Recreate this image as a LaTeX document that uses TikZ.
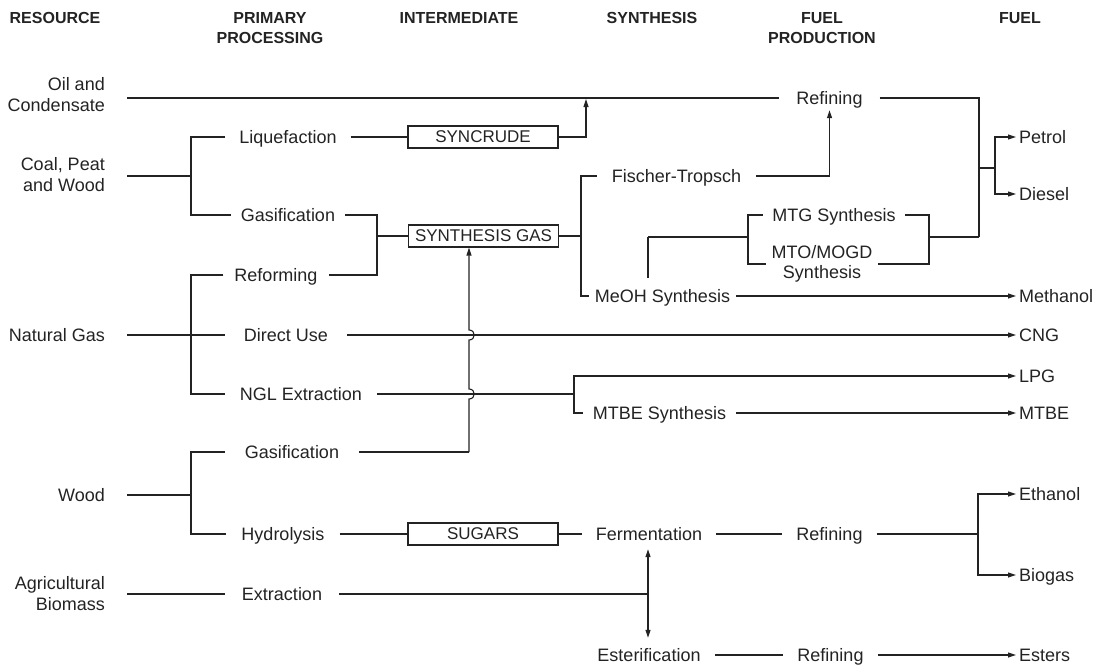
\documentclass[tikz,border=0pt]{standalone}
\usepackage{fontspec}
\setmainfont{Liberation Sans}
\usetikzlibrary{arrows.meta}
\definecolor{ink}{RGB}{35,35,35}
\begin{document}
\fontsize{18}{21}\selectfont
\begin{tikzpicture}[x=1pt,y=-1pt,
  every node/.style={text=ink},
  t/.style={font=\fontsize{18}{21}\selectfont, inner xsep=14pt, inner ysep=0pt, text height=12pt, text depth=0pt},
  hd/.style={font=\fontsize{16}{20}\selectfont\bfseries, align=center},
  res/.style={font=\fontsize{18}{21}\selectfont, align=right, anchor=east, inner xsep=22pt, inner ysep=0pt},
  box/.style={draw=ink, line width=1.1pt, font=\fontsize{17}{20}\selectfont, minimum width=150pt, minimum height=22pt, inner sep=0pt},
  fuel/.style={t, anchor=west, inner xsep=3pt},
  ln/.style={draw=ink, line width=1.1pt},
  >={Triangle[length=8pt,width=5pt]}
]
\useasboundingbox (0,0) rectangle (1101,669);

% headers
\node[hd] (h1) at (55,18) {RESOURCE};
\node[hd] (h2) at (270,28) {PRIMARY\\PROCESSING};
\node[hd] (h3) at (459,18) {INTERMEDIATE};
\node[hd] (h4) at (652,18) {SYNTHESIS};
\node[hd] (h5) at (822,28) {FUEL\\PRODUCTION};
\node[hd] (h6) at (1020,18) {FUEL};

% resources
\node[res] (oil) at (127,95) {Oil and\\Condensate};
\node[res] (coal) at (127,175) {Coal, Peat\\and Wood};
\node[t, anchor=east, inner xsep=22pt] (ng) at (127,335) {Natural Gas};
\node[t, anchor=east, inner xsep=22pt] (wood) at (127,495) {Wood};
\node[res] (agri) at (127,594) {Agricultural\\Biomass};

% primary processing
\node[t] (liq) at (288,137) {Liquefaction};
\node[t, inner xsep=10pt] (gas1) at (288,215) {Gasification};
\node[t, inner xsep=11pt] (ref) at (276,275) {Reforming};
\node[t, inner xsep=19pt] (direct) at (286,335) {Direct Use};
\node[t, inner xsep=15pt] (ngl) at (301,394) {NGL Extraction};
\node[t, inner xsep=20pt] (gas2) at (292,452) {Gasification};
\node[t, inner xsep=15pt] (hyd) at (283,534) {Hydrolysis};
\node[t, inner xsep=17pt] (ext) at (282,594) {Extraction};

% intermediates
\node[box] (syncrude) at (483,137) {SYNCRUDE};
\node[box] (syngas) at (483.5,236) {SYNTHESIS GAS};
\node[box] (sugars) at (483,534) {SUGARS};

% synthesis
\node[t, inner xsep=15pt] (ft) at (676.5,176) {Fischer-Tropsch};
\node[t, inner xsep=6pt] (meoh) at (662.5,296) {MeOH Synthesis};
\node[t, inner xsep=10pt] (mtbe) at (659.5,413) {MTBE Synthesis};
\node[t] (ferm) at (649,534) {Fermentation};
\node[t] (ester) at (649,655) {Esterification};

% fuel production
\node[t, inner xsep=17pt] (r1) at (829.5,98) {Refining};
\node[t, inner xsep=9.5pt] (mtg) at (834,215) {MTG Synthesis};
\node[align=center, inner xsep=5pt, inner ysep=0pt, font=\fontsize{18}{20}\selectfont] (mto) at (822,264) {MTO/MOGD\\Synthesis};
\node[t] (r2) at (829.5,534) {Refining};
\node[t] (r3) at (830.5,655) {Refining};

% fuels
\node[fuel] (petrol) at (1016,137) {Petrol};
\node[fuel] (diesel) at (1016,194) {Diesel};
\node[fuel] (methanol) at (1016,296) {Methanol};
\node[fuel] (cng) at (1016,335) {CNG};
\node[fuel] (lpg) at (1016,376) {LPG};
\node[fuel] (mtbef) at (1016,413) {MTBE};
\node[fuel] (ethanol) at (1016,494) {Ethanol};
\node[fuel] (biogas) at (1016,575) {Biogas};
\node[fuel] (esters) at (1016,655) {Esters};

% junction coordinates
\coordinate (jc) at (191,176);
\coordinate (jn0) at (191,335);
\coordinate (jw) at (191,495);
\coordinate (jo) at (586,99);
\coordinate (jg) at (377,236);
\coordinate (js) at (581,236);
\coordinate (jr) at (979,237);
\coordinate (jf) at (979,168);
\coordinate (jp) at (995,168);
\coordinate (jl) at (748,237);
\coordinate (jm) at (929,237);
\coordinate (jml) at (648,237);
\coordinate (jn) at (574,394);
\coordinate (jg2) at (469,452);
\coordinate (je) at (978,534);
\coordinate (jx) at (648,594);

% resource connectors
\draw[ln] (oil.east |- r1.west) -- (r1.west);
\draw[ln] (coal.east |- jc) -- (jc);
\draw[ln] (liq.west) -| (jc) |- (gas1.west);
\draw[ln] (ng.east) -- (jn0);
\draw[ln] (ref.west) -| (jn0) |- (ngl.west);
\draw[ln] (jn0) -- (direct.west);
\draw[ln] (wood.east) -- (jw);
\draw[ln] (gas2.west) -| (jw) |- (hyd.west);
\draw[ln] (agri.east |- ext.west) -- (ext.west);

% intermediate connectors
\draw[ln] (liq.east) -- (syncrude.west);
\draw[ln,->] (syncrude.east) -| (jo);
\draw[ln] (gas1.east) -| (jg) |- (ref.east);
\draw[ln] (jg) -- (syngas.west);
\draw[ln] (syngas.east) -- (js);
\draw[ln] (ft.west) -| (js) |- (meoh.west);
\draw[ln] (hyd.east) -- (sugars.west);
\draw[ln] (sugars.east) -- (ferm.west);

% gasification of wood up to synthesis gas, jumping two lines
\draw[ln] (gas2.east) -- (jg2);
\draw[ln,->] (jg2) -- ++(0,-53) .. controls +(7,0) and +(7,0) .. ++(0,-10)
  -- ++(0,-49) .. controls +(7,0) and +(7,0) .. ++(0,-10) -- (syngas.south -| jg2);

% synthesis / fuel production
\draw[ln,->, shorten >=6pt] (ft.east) -| (r1.south);
\draw[ln] (r1.east) -| (jr);
\draw[ln] (jf) -- (jp);
\draw[ln,->] (jp) |- (petrol.west);
\draw[ln,->] (jp) |- (diesel.west);
\draw[ln] (mtg.west) -| (jl) |- (mto.west);
\draw[ln] (mtg.east) -| (jm) |- (mto.east);
\draw[ln] (jm) -- (jr);
\draw[ln] (jml) -- (jl);
\draw[ln, shorten >=12pt] (jml) -- (jml |- meoh.north);
\draw[ln,->] (meoh.east) -- (methanol.west);
\draw[ln,->] (direct.east) -- (cng.west);
\draw[ln] (ngl.east) -- (jn);
\draw[ln,->] (jn) |- (lpg.west);
\draw[ln] (jn) |- (mtbe.west);
\draw[ln,->] (mtbe.east) -- (mtbef.west);

% bio routes
\draw[ln] (ferm.east) -- (r2.west);
\draw[ln] (r2.east) -- (je);
\draw[ln,->] (je) |- (ethanol.west);
\draw[ln,->] (je) |- (biogas.west);
\draw[ln] (ext.east) -- (jx);
\draw[ln,<->, shorten <=9pt, shorten >=11pt] (jx |- ferm.south) -- (jx |- ester.north);
\draw[ln] (ester.east) -- (r3.west);
\draw[ln,->] (r3.east) -- (esters.west);
\end{tikzpicture}
\end{document}
